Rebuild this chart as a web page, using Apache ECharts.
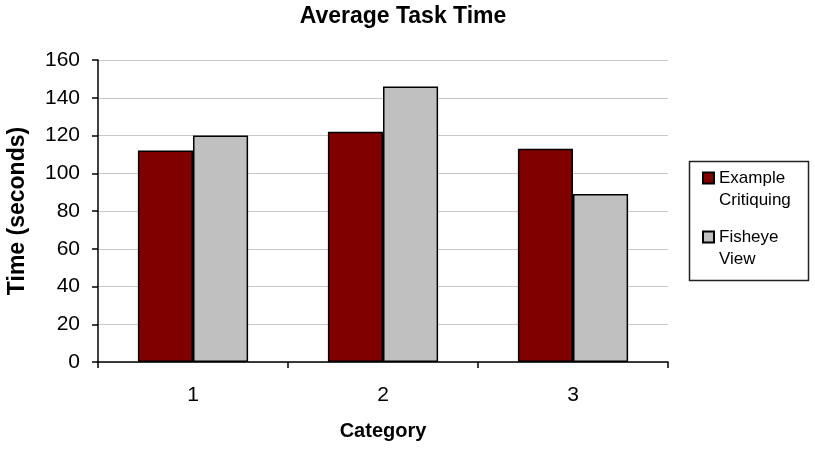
<!DOCTYPE html>
<html><head><meta charset="utf-8">
<script src="https://cdn.jsdelivr.net/npm/echarts@6/dist/echarts.min.js"></script>
<style>html,body{margin:0;padding:0;background:#fff}#c{width:815px;height:450px}</style>
</head><body><div id="c"></div>
<script>
var categories = ['1', '2', '3'];
var seriesNames = ['Example\nCritiquing', 'Fisheye\nView'];
var exampleCritiquing = [112, 122, 113];
var fisheyeView = [120, 146, 89];
var yTicks = [0, 20, 40, 60, 80, 100, 120, 140, 160];

var chart = echarts.init(document.getElementById('c'));
var F = 'Arial, "Liberation Sans", sans-serif';
chart.setOption({
  animation: false,
  backgroundColor: '#fff',
  title: {
    text: 'Average Task Time', left: 398, top: 0, textAlign: 'center',
    textStyle: { fontFamily: F, fontSize: 23, fontWeight: 'bold', color: '#000' }
  },
  grid: { left: 98, right: 147, top: 60, bottom: 88, containLabel: false, outerBoundsMode: 'none' },
  graphic: [{
    type: 'rect', left: 687, top: 159, z: 0,
    shape: { width: 119, height: 119 },
    style: { fill: 'none', stroke: '#222', lineWidth: 1.5 }
  }],
  legend: {
    orient: 'vertical', left: 702, top: 145,
    data: seriesNames, icon: 'rect',
    itemWidth: 11, itemHeight: 11, itemGap: -7,
    padding: 0,
    formatter: function (n) { return '\n' + n; },
    textStyle: { fontFamily: F, fontSize: 17, color: '#000', lineHeight: 22 }
  },
  xAxis: {
    type: 'category', data: categories,
    name: 'Category', nameLocation: 'middle', nameGap: 59,
    nameTextStyle: { fontFamily: F, fontSize: 20, fontWeight: 'bold', color: '#000' },
    axisLine: { lineStyle: { color: '#000', width: 1.5 } },
    axisTick: { show: true, length: 6, lineStyle: { color: '#000', width: 1.5 } },
    axisLabel: { fontFamily: F, fontSize: 21, color: '#000', margin: 23 }
  },
  yAxis: {
    type: 'value', min: 0, max: 160, interval: 20,
    name: 'Time (seconds)', nameLocation: 'middle', nameGap: 69,
    nameTextStyle: { fontFamily: F, fontSize: 23, fontWeight: 'bold', color: '#000' },
    axisLine: { show: true, lineStyle: { color: '#000', width: 1.5 } },
    axisTick: { show: true, length: 6, lineStyle: { color: '#000', width: 1.5 } },
    axisLabel: { fontFamily: F, fontSize: 21, color: '#000', margin: 18,
      formatter: function (v) { return yTicks.indexOf(v) >= 0 ? String(v) : ''; } },
    splitLine: { lineStyle: { color: '#c8c8c8', width: 1 } }
  },
  series: [
    { name: seriesNames[0], type: 'bar', data: exampleCritiquing, barGap: '0%', barCategoryGap: '42%',
      itemStyle: { color: '#800000', borderColor: '#000', borderWidth: 1.5 } },
    { name: seriesNames[1], type: 'bar', data: fisheyeView, barGap: '0%', barCategoryGap: '42%',
      itemStyle: { color: '#c0c0c0', borderColor: '#000', borderWidth: 1.5 } }
  ]
});
</script></body></html>
